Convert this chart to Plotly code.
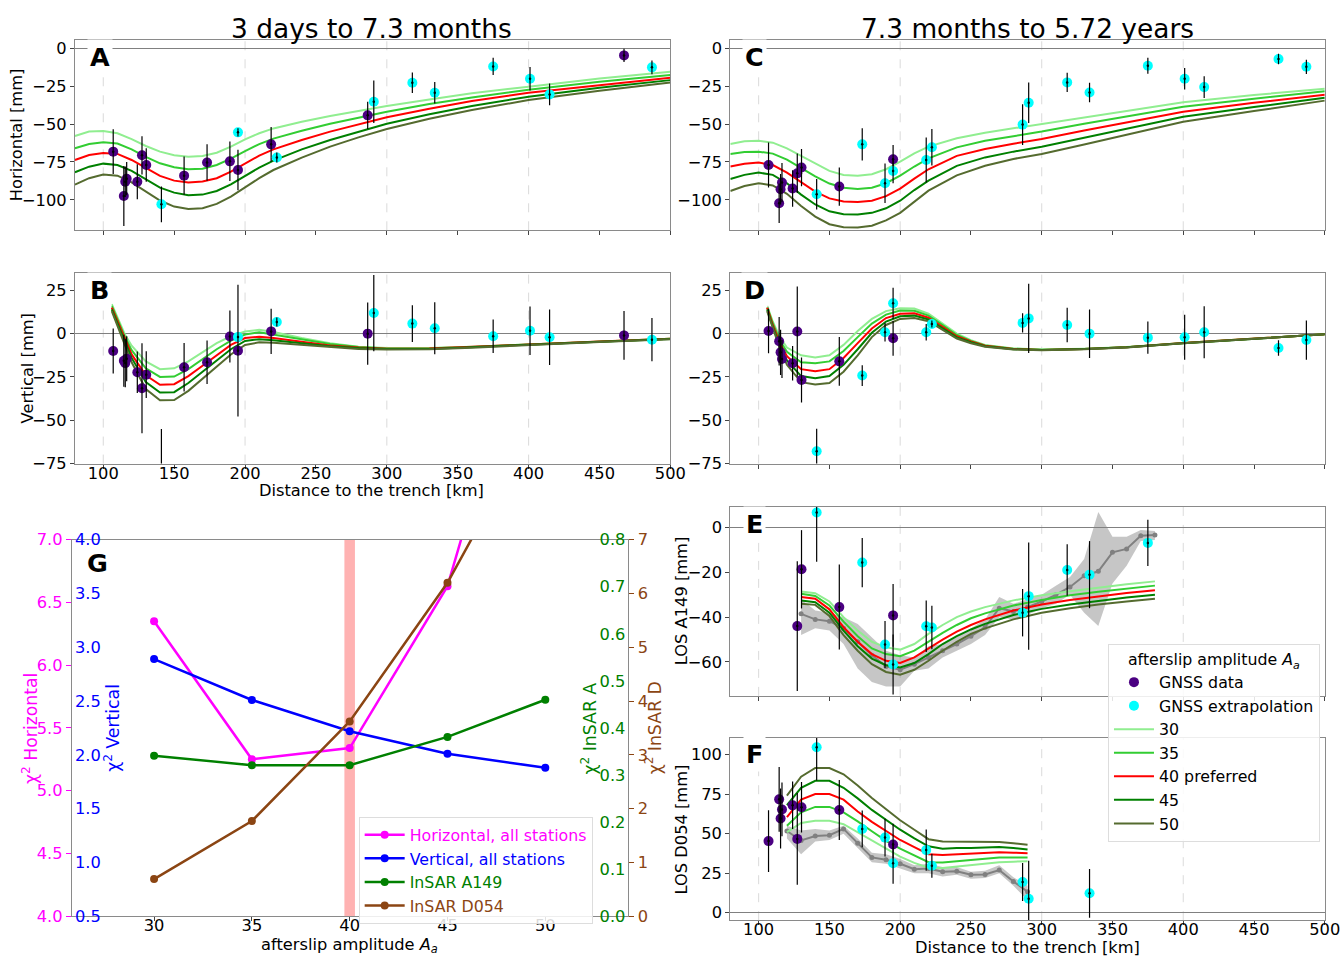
import plotly.graph_objects as go

FONT = "DejaVu Sans"
W, H = 1343, 964
FRAME = "#8a8a8a"

# screen placement: positions below are given in on-screen pixels and mapped to
# the figure's paper coordinates with this calibration
SX, SY, OY = 0.989, 0.979, 9.0
FS = 1.0 / 0.984

KM_TICKS = [100, 150, 200, 250, 300, 350, 400, 450, 500]
GRID_KM = [100, 200, 300, 400]
AMPLITUDES = [30, 35, 40, 45, 50]
LINE_COLORS = ["#90ee90", "#32cd32", "#ff0000", "#008000", "#556b2f"]
LINE_NAMES = ["30", "35", "40 preferred", "45", "50"]
DATA_COLOR = "#4b0082"
EXTRA_COLOR = "#00ffff"

# ---------------- model curves (mm) ----------------
A_KM = [80, 90, 100, 110, 120, 130, 140, 150, 160, 170, 180, 190, 200, 210, 220, 240, 260, 280, 300, 330, 360, 400, 450, 500]
A_30 = [-57.9, -55.0, -54.6, -56.1, -59.9, -64.5, -68.2, -70.6, -71.5, -71.0, -68.9, -64.9, -60.1, -56.1, -52.9, -48.5, -44.7, -41.4, -38.2, -33.8, -29.8, -25.4, -20.0, -15.6]
A_35 = [-66.0, -63.2, -62.0, -62.9, -66.7, -71.7, -75.9, -78.5, -79.8, -79.4, -77.0, -72.8, -67.8, -63.2, -59.6, -54.4, -49.8, -45.6, -41.9, -36.8, -32.5, -27.4, -22.1, -17.8]
A_40 = [-73.7, -70.4, -69.1, -69.7, -73.7, -79.2, -84.2, -87.3, -88.6, -87.9, -85.7, -81.4, -75.9, -70.8, -66.7, -60.5, -55.0, -50.2, -45.6, -39.9, -34.9, -29.4, -24.3, -19.6]
A_45 = [-81.8, -78.1, -76.1, -77.0, -80.9, -86.6, -91.9, -95.2, -96.9, -96.5, -94.1, -89.7, -84.0, -78.7, -74.1, -66.7, -60.5, -55.0, -49.8, -43.6, -38.2, -32.0, -26.1, -21.1]
A_50 = [-89.9, -85.7, -83.3, -84.0, -88.4, -94.5, -100.4, -104.4, -105.9, -105.5, -102.6, -97.8, -91.7, -85.7, -80.3, -72.1, -64.9, -58.8, -53.3, -46.5, -40.8, -34.2, -28.1, -22.6]

B_KM = [106, 110, 115, 120, 130, 140, 150, 160, 170, 180, 190, 200, 210, 220, 240, 260, 280, 300, 330, 360, 400, 450, 500]
B_30 = [17.0, 9.0, 0.0, -7.0, -16.0, -20.5, -20.0, -16.0, -10.5, -5.5, -1.5, 1.2, 2.2, 1.0, -2.5, -5.5, -7.5, -8.3, -8.3, -7.6, -6.2, -4.5, -2.9]
B_35 = [16.0, 8.0, -1.5, -9.5, -20.0, -25.0, -24.8, -20.5, -14.5, -9.0, -4.0, -0.5, 0.8, -0.5, -3.5, -6.0, -7.7, -8.5, -8.4, -7.7, -6.2, -4.5, -3.0]
B_40 = [15.0, 7.0, -3.0, -12.0, -24.0, -29.5, -29.2, -24.5, -18.5, -12.5, -6.5, -2.5, -1.8, -2.5, -4.8, -6.8, -8.0, -8.7, -8.6, -7.8, -6.3, -4.6, -3.0]
B_45 = [14.0, 6.0, -4.5, -14.0, -28.0, -34.0, -33.8, -28.5, -22.0, -15.5, -9.0, -4.2, -3.2, -3.8, -5.5, -7.3, -8.3, -8.9, -8.8, -7.9, -6.4, -4.7, -3.1]
B_50 = [13.0, 5.0, -6.0, -16.5, -32.0, -38.5, -38.3, -33.0, -26.0, -19.0, -12.0, -6.5, -5.0, -5.3, -6.5, -8.0, -8.8, -9.2, -9.0, -8.1, -6.5, -4.8, -3.2]

C_KM = A_KM
C_30 = [-63.2, -61.4, -61.0, -62.3, -66.0, -71.0, -76.3, -80.9, -83.6, -84.0, -83.1, -79.8, -74.8, -69.3, -64.9, -59.4, -55.7, -52.9, -50.2, -45.6, -41.4, -35.7, -30.9, -26.8]
C_35 = [-69.7, -68.5, -68.2, -69.5, -73.5, -79.0, -84.5, -89.2, -92.0, -92.8, -92.0, -89.0, -84.0, -78.0, -72.6, -65.4, -61.0, -58.0, -55.0, -49.8, -45.0, -38.6, -33.3, -28.5]
C_40 = [-78.0, -76.2, -75.4, -77.0, -82.0, -88.5, -94.5, -99.0, -101.0, -101.3, -100.5, -97.5, -92.5, -86.0, -79.8, -71.0, -66.5, -63.0, -59.9, -54.3, -48.8, -41.9, -36.0, -30.7]
C_45 = [-86.2, -83.5, -82.0, -83.5, -89.0, -96.5, -103.0, -107.5, -109.4, -109.6, -108.5, -105.5, -100.5, -93.5, -87.3, -77.6, -72.0, -68.2, -65.0, -59.0, -53.0, -45.2, -38.8, -32.7]
C_50 = [-94.1, -90.8, -89.0, -90.5, -96.0, -104.0, -111.0, -116.0, -118.0, -118.2, -117.0, -113.5, -108.5, -101.0, -93.9, -83.8, -77.5, -73.0, -69.7, -63.5, -57.0, -48.5, -41.5, -34.6]

D_KM = [106, 110, 115, 120, 130, 140, 150, 160, 170, 180, 190, 200, 210, 220, 230, 240, 250, 260, 280, 300, 330, 360, 400, 450, 500]
D_30 = [16.0, 7.0, -2.0, -8.0, -12.5, -13.7, -12.5, -6.5, 1.5, 8.5, 13.0, 14.6, 14.5, 11.5, 5.8, 0.0, -3.8, -6.5, -8.5, -9.2, -8.7, -7.7, -5.4, -3.0, -0.4]
D_35 = [15.5, 6.0, -4.0, -10.5, -16.5, -17.1, -16.0, -10.0, -2.0, 5.8, 11.0, 13.3, 13.2, 10.4, 5.0, -0.8, -4.2, -6.8, -8.7, -9.3, -8.8, -7.8, -5.4, -3.0, -0.4]
D_40 = [15.0, 5.0, -5.5, -13.0, -20.5, -21.7, -20.5, -14.0, -5.5, 3.0, 9.0, 11.5, 11.7, 9.2, 4.0, -1.5, -4.5, -7.0, -8.8, -9.4, -8.8, -7.8, -5.4, -3.0, -0.4]
D_45 = [14.0, 4.0, -7.0, -15.5, -24.5, -25.8, -24.5, -18.0, -9.0, 0.5, 7.0, 10.0, 10.4, 8.2, 3.0, -2.2, -5.0, -7.3, -9.0, -9.5, -8.9, -7.9, -5.5, -3.0, -0.4]
D_50 = [13.0, 3.0, -8.5, -18.0, -28.0, -29.4, -28.5, -22.0, -12.5, -2.0, 5.0, 8.5, 9.0, 7.2, 2.2, -2.8, -5.5, -7.5, -9.1, -9.6, -9.0, -8.0, -5.5, -3.0, -0.4]

E_KM = [130, 140, 150, 160, 170, 180, 190, 200, 210, 220, 230, 240, 250, 260, 280, 300, 320, 340, 360, 380]
E_30 = [-28.5, -29.3, -33.0, -40.0, -46.0, -51.0, -53.5, -54.5, -52.0, -47.5, -43.5, -40.0, -37.5, -35.5, -32.5, -30.2, -28.4, -26.8, -25.3, -24.0]
E_35 = [-29.5, -30.5, -34.8, -42.0, -48.5, -54.0, -56.5, -57.5, -55.0, -51.0, -47.0, -43.5, -40.5, -38.3, -34.8, -32.3, -30.2, -28.6, -27.1, -25.9]
E_40 = [-31.0, -31.8, -36.5, -44.5, -51.0, -56.5, -59.5, -60.5, -58.0, -54.0, -50.0, -46.5, -43.5, -41.0, -37.0, -34.3, -32.3, -30.8, -29.2, -28.0]
E_45 = [-32.5, -33.3, -38.0, -46.0, -53.0, -58.5, -61.5, -62.5, -60.5, -56.5, -52.0, -48.5, -45.5, -43.0, -39.0, -36.3, -34.3, -32.7, -31.2, -30.0]
E_50 = [-34.0, -34.5, -39.5, -48.0, -55.0, -61.0, -64.5, -65.7, -63.5, -59.5, -55.0, -51.0, -47.5, -45.0, -41.0, -38.0, -36.0, -34.3, -33.0, -31.8]

F_KM = [120, 130, 140, 150, 160, 170, 180, 190, 200, 210, 220, 230, 240, 250, 260, 270, 280, 290]
F_30 = [51.0, 56.8, 58.2, 58.2, 56.0, 51.0, 45.5, 40.5, 35.5, 31.5, 28.5, 28.3, 29.3, 30.0, 31.0, 32.0, 32.3, 32.5]
F_35 = [55.0, 63.5, 66.9, 66.9, 63.5, 57.8, 51.5, 45.5, 40.5, 36.0, 32.0, 31.8, 32.6, 33.3, 34.3, 34.9, 35.0, 35.0]
F_40 = [60.5, 71.5, 75.0, 75.0, 71.5, 64.0, 57.5, 51.5, 46.0, 41.5, 37.0, 36.5, 37.0, 37.4, 38.0, 38.3, 38.0, 37.6]
F_45 = [68.0, 79.0, 83.4, 83.4, 79.0, 72.3, 65.0, 58.5, 52.5, 47.0, 42.0, 40.5, 41.0, 41.0, 41.5, 41.6, 41.0, 40.0]
F_50 = [74.0, 86.0, 91.5, 91.5, 87.5, 80.4, 72.5, 65.5, 58.5, 52.5, 46.5, 45.0, 45.0, 45.0, 44.8, 44.8, 44.0, 43.0]

# ---------------- InSAR profiles (mm) ----------------
E_LOS_KM = [130, 140, 150, 160, 170, 180, 190, 200, 210, 220, 230, 240, 250, 260, 270, 280, 290, 300, 310, 320, 330, 340, 350, 360, 370, 380]
E_LOS = [-38.5, -41.0, -41.8, -45.0, -51.0, -57.0, -62.0, -63.5, -61.0, -58.0, -55.0, -52.0, -48.5, -44.5, -36.0, -37.5, -35.5, -33.0, -30.0, -26.5, -21.5, -19.5, -11.0, -9.5, -3.6, -3.3]
E_LOS_LOW = [-48, -45, -46, -52, -63, -69, -71, -71, -64, -63, -58, -55, -52, -48, -40, -41, -39, -36, -34, -30, -38, -44, -25, -17, -6, -5.5]
E_LOS_HIGH = [-32, -37, -38, -40, -43, -49, -55, -57, -58, -53, -52, -49, -45, -41, -31, -34, -32, -30, -26, -22, -14, 7, -4, -4, -1, -1.5]

F_LOS_KM = [120, 130, 140, 150, 160, 170, 180, 190, 200, 210, 220, 230, 240, 250, 260, 270, 280, 290]
F_LOS = [51.7, 45.7, 48.5, 49.0, 53.0, 44.0, 35.0, 33.5, 31.0, 27.5, 28.0, 26.0, 26.3, 24.0, 24.2, 27.0, 19.8, 13.3]
F_LOS_LOW = [47, 37, 45, 46, 50, 41, 32, 31, 28, 25, 25, 23, 24, 21.5, 22, 25, 17, 8]
F_LOS_HIGH = [55, 52, 53, 52, 55, 47, 38, 37, 34, 30, 31, 29, 29, 26, 26.5, 30, 22.5, 17]

# ---------------- GNSS stations: distance (km), value (mm), error (mm) ----------------
A_GNSS_KM = [107, 114.5, 115.5, 116.5, 124, 127.3, 130.3, 157, 173.2, 189.3, 195, 218.4, 286.5, 467.3]
A_GNSS = [-68.2, -97.4, -88.0, -86.0, -88.0, -70.6, -77.0, -84.0, -75.4, -74.6, -80.3, -63.4, -44.3, -4.8]
A_GNSS_ERR = [14.8, 19.7, 10, 11, 11.5, 12.6, 11, 12.6, 12, 13, 13.4, 11.5, 9, 4.4]
A_EXT_KM = [141, 195, 222.4, 290.8, 318, 333.8, 375, 401, 414.8, 487]
A_EXT = [-102.9, -55.5, -72.1, -35.3, -22.8, -29.4, -12.1, -20.2, -30.5, -12.7]
A_EXT_ERR = [11.8, 2.7, 3.3, 14, 6.8, 7.1, 5.7, 7.7, 7.1, 4.6]

B_GNSS_KM = A_GNSS_KM
B_GNSS = [-10.0, -15.6, -17.0, -14.5, -22.3, -31.5, -23.7, -19.4, -16.5, -1.7, -9.8, 1.3, 0.0, -1.0]
B_GNSS_ERR = [13, 15, 14, 13, 12, 26, 13.5, 14, 12.5, 15, 38, 13, 18, 14]
B_EXT_KM = A_EXT_KM
B_EXT = [-82.0, -2.0, 6.7, 11.9, 5.8, 3.1, -1.5, 1.7, -2.1, -3.5]
B_EXT_ERR = [27, 3, 2.6, 22, 10.6, 15, 9.6, 14, 16, 12.5]

C_GNSS_KM = [107, 114.5, 115.5, 116.5, 124, 127.3, 130.3, 157, 195]
C_GNSS = [-77.0, -102.2, -93.0, -88.6, -92.5, -82.5, -78.7, -91.2, -73.2]
C_GNSS_ERR = [14.8, 13, 10, 13, 12, 13, 12.3, 12.6, 9.3]
C_EXT_KM = [141, 173.2, 189.3, 195, 218.4, 222.4, 286.5, 290.8, 318, 333.8, 375, 401, 414.8, 467.3, 487]
C_EXT = [-96.3, -63.4, -89.0, -80.9, -73.7, -65.3, -50.4, -36.0, -22.6, -29.2, -11.6, -20.2, -25.7, -7.2, -12.3]
C_EXT_ERR = [10, 10.6, 13, 8.2, 14.8, 12, 13.4, 13.4, 6.3, 6.4, 5.3, 7.1, 7.1, 3.5, 4.7]

D_GNSS_KM = C_GNSS_KM
D_GNSS = [1.5, -4.4, -10.8, -14.6, -17.1, 1.2, -26.7, -16.0, -2.7]
D_GNSS_ERR = [12.8, 14, 13, 11, 10, 26, 13, 14, 10]
D_EXT_KM = C_EXT_KM
D_EXT = [-67.9, -24.2, 0.8, 17.5, 0.8, 5.6, 6.2, 8.8, 5.0, 0.0, -2.3, -2.1, 0.8, -8.3, -3.7]
D_EXT_ERR = [13, 6, 5.3, 9, 4.8, 2, 5.6, 20, 10, 14, 9.3, 13, 15, 4.5, 11.3]

E_GNSS_KM = [127.3, 130.3, 157, 195]
E_GNSS = [-44.0, -18.6, -35.5, -39.2]
E_GNSS_ERR = [29, 17.5, 19, 14]
E_EXT_KM = [141, 173.2, 189.3, 195, 218.4, 222.4, 286.5, 290.8, 318, 333.8, 375]
E_EXT = [6.8, -15.6, -52.2, -61.2, -44.1, -44.6, -38.0, -30.6, -18.9, -21.0, -6.8]
E_EXT_ERR = [22, 11, 10.5, 13.4, 11.5, 9.7, 10.6, 24, 11.5, 15, 10.3]

F_GNSS_KM = [107, 114.5, 115.5, 116.5, 124, 127.3, 130.3, 157, 195]
F_GNSS = [45.3, 71.7, 59.6, 65.3, 67.9, 46.7, 66.7, 65.0, 43.2]
F_GNSS_ERR = [19.5, 20.5, 19, 17, 15, 29, 16, 19, 13]
F_EXT_KM = [141, 173.2, 189.3, 195, 218.4, 222.4, 286.5, 290.8, 333.8]
F_EXT = [104.6, 53.0, 47.5, 31.3, 39.6, 29.7, 19.4, 8.9, 12.3]
F_EXT_ERR = [21, 11.6, 12, 13, 13, 7.6, 12, 24, 15.4]

# ---------------- misfit vs. afterslip amplitude ----------------
CHI2_HORIZONTAL = [6.35, 5.25, 5.34, 6.63, 9.3]
CHI2_VERTICAL = [2.89, 2.51, 2.22, 2.01, 1.88]
CHI2_A149 = [0.341, 0.321, 0.321, 0.381, 0.460]
CHI2_D054 = [0.69, 1.77, 3.62, 6.20, 9.5]
PREFERRED_AMPLITUDE = 40


def px(x):
    return min(1.0, (x / SX) / W)


def py(y):
    return max(0.0, 1 - ((y - OY) / SY) / H)


def fs(size):
    return round(size * FS, 2)


fig = go.Figure()

panels = [
    dict(x="x", y="y", km=A_KM, curves=[A_30, A_35, A_40, A_45, A_50],
         gnss=(A_GNSS_KM, A_GNSS, A_GNSS_ERR), ext=(A_EXT_KM, A_EXT, A_EXT_ERR), los=None, legend=True),
    dict(x="x2", y="y2", km=B_KM, curves=[B_30, B_35, B_40, B_45, B_50],
         gnss=(B_GNSS_KM, B_GNSS, B_GNSS_ERR), ext=(B_EXT_KM, B_EXT, B_EXT_ERR), los=None, legend=False),
    dict(x="x3", y="y3", km=C_KM, curves=[C_30, C_35, C_40, C_45, C_50],
         gnss=(C_GNSS_KM, C_GNSS, C_GNSS_ERR), ext=(C_EXT_KM, C_EXT, C_EXT_ERR), los=None, legend=False),
    dict(x="x4", y="y4", km=D_KM, curves=[D_30, D_35, D_40, D_45, D_50],
         gnss=(D_GNSS_KM, D_GNSS, D_GNSS_ERR), ext=(D_EXT_KM, D_EXT, D_EXT_ERR), los=None, legend=False),
    dict(x="x5", y="y5", km=E_KM, curves=[E_30, E_35, E_40, E_45, E_50],
         gnss=(E_GNSS_KM, E_GNSS, E_GNSS_ERR), ext=(E_EXT_KM, E_EXT, E_EXT_ERR),
         los=(E_LOS_KM, E_LOS, E_LOS_LOW, E_LOS_HIGH), legend=False),
    dict(x="x6", y="y6", km=F_KM, curves=[F_30, F_35, F_40, F_45, F_50],
         gnss=(F_GNSS_KM, F_GNSS, F_GNSS_ERR), ext=(F_EXT_KM, F_EXT, F_EXT_ERR),
         los=(F_LOS_KM, F_LOS, F_LOS_LOW, F_LOS_HIGH), legend=False),
]

for p in panels:
    ax = dict(xaxis=p["x"], yaxis=p["y"])
    if p["los"] is not None:
        lk, lm, lo, hi = p["los"]
        fig.add_trace(go.Scatter(x=lk + lk[::-1], y=hi + lo[::-1], fill="toself",
                                 fillcolor="rgba(128,128,128,0.45)", line=dict(width=0),
                                 mode="lines", showlegend=False, hoverinfo="skip", **ax))
        fig.add_trace(go.Scatter(x=lk, y=lm, mode="lines+markers",
                                 line=dict(color="#808080", width=2),
                                 marker=dict(color="#808080", size=5),
                                 showlegend=False, **ax))
    for i, amp in enumerate(AMPLITUDES):
        fig.add_trace(go.Scatter(x=p["km"], y=p["curves"][i], mode="lines",
                                 line=dict(color=LINE_COLORS[i], width=2),
                                 name=LINE_NAMES[i], legend="legend", legendrank=10 + i,
                                 showlegend=p["legend"], **ax))
    for (kms, vals, errs), color, name, rank in [
        (p["gnss"], DATA_COLOR, "GNSS data", 1),
        (p["ext"], EXTRA_COLOR, "GNSS extrapolation", 2),
    ]:
        fig.add_trace(go.Scatter(x=kms, y=vals, mode="markers",
                                 marker=dict(color=color, size=10),
                                 name=name, legend="legend", legendrank=rank,
                                 showlegend=p["legend"], **ax))
        fig.add_trace(go.Scatter(x=kms, y=vals, mode="markers",
                                 marker=dict(color="black", size=2.5),
                                 error_y=dict(type="data", array=errs, color="black",
                                              thickness=1.2, width=0),
                                 showlegend=False, **ax))

# misfit panel G
g_series = [
    (CHI2_HORIZONTAL, "y7", "#ff00ff", "Horizontal, all stations"),
    (CHI2_VERTICAL, "y8", "#0000ff", "Vertical, all stations"),
    (CHI2_A149, "y9", "#008000", "InSAR A149"),
    (CHI2_D054, "y10", "#8b4513", "InSAR D054"),
]
for rank, (vals, yref, color, name) in enumerate(g_series):
    fig.add_trace(go.Scatter(x=AMPLITUDES, y=vals, xaxis="x7", yaxis=yref,
                             mode="lines+markers", line=dict(color=color, width=2.5),
                             marker=dict(color=color, size=8),
                             name=f'<span style="color:{color}">{name}</span>',
                             legend="legend2", legendrank=rank + 1))

tickfont = dict(family=FONT, size=fs(16), color="black")


def xaxis(domain, anchor, labels, standoff=-9):
    return dict(domain=domain, anchor=anchor, range=[80, 500], tickvals=KM_TICKS,
                ticks="outside", ticklen=4, tickcolor="#444", showticklabels=labels,
                ticklabelstandoff=standoff,
                showgrid=False, zeroline=False, showline=True, mirror=True,
                linecolor=FRAME, linewidth=1.2, tickfont=tickfont)


def yaxis(domain, anchor, rng, tickvals):
    return dict(domain=domain, anchor=anchor, range=rng, tickvals=tickvals,
                ticks="outside", ticklen=4, tickcolor="#444", showgrid=False,
                zeroline=True, zerolinecolor="#808080", zerolinewidth=1.3,
                showline=True, mirror=True, linecolor=FRAME, linewidth=1.2,
                tickfont=tickfont)


LEFT = [px(75), px(671)]
RIGHT = [px(731), px(1326)]
ROW_A = [py(230), py(40)]
ROW_B = [py(463), py(273)]
ROW_E = [py(695), py(506)]
ROW_F = [py(919), py(737)]
G_X = [px(72), px(629)]
G_Y = [py(915), py(539)]

layout_axes = dict(
    xaxis=xaxis(LEFT, "y", False), yaxis=yaxis(ROW_A, "x", [-120, 5.3], [-100, -75, -50, -25, 0]),
    xaxis2=xaxis(LEFT, "y2", True), yaxis2=yaxis(ROW_B, "x2", [-75, 34.8], [-75, -50, -25, 0, 25]),
    xaxis3=xaxis(RIGHT, "y3", False), yaxis3=yaxis(ROW_A, "x3", [-120, 5.3], [-100, -75, -50, -25, 0]),
    xaxis4=xaxis(RIGHT, "y4", False), yaxis4=yaxis(ROW_B, "x4", [-75, 34.8], [-75, -50, -25, 0, 25]),
    xaxis5=xaxis(RIGHT, "y5", False), yaxis5=yaxis(ROW_E, "x5", [-75.2, 9.4], [-60, -40, -20, 0]),
    xaxis6=xaxis(RIGHT, "y6", True, standoff=-10),
    yaxis6=yaxis(ROW_F, "x6", [-4.7, 110.5], [0, 25, 50, 75, 100]),
    xaxis7=dict(domain=G_X, anchor="y7", range=[25.8, 54.25], tickvals=AMPLITUDES,
                ticks="outside", ticklen=4, tickcolor="#444", showgrid=False, zeroline=False,
                ticklabelstandoff=-10,
                showline=True, mirror=True, linecolor=FRAME, linewidth=1.2, tickfont=tickfont),
    yaxis7=dict(domain=G_Y, anchor="x7", range=[4, 7], tickvals=[4.0, 4.5, 5.0, 5.5, 6.0, 6.5, 7.0],
                tickformat=".1f", ticks="outside", ticklen=5, tickcolor="#ff00ff",
                showgrid=False, zeroline=False, showline=True, mirror=True,
                linecolor=FRAME, linewidth=1.2,
                tickfont=dict(family=FONT, size=fs(16), color="#ff00ff")),
    yaxis8=dict(overlaying="y7", anchor="x7", side="left", range=[0.5, 4],
                tickvals=[0.5, 1.0, 1.5, 2.0, 2.5, 3.0, 3.5, 4.0], tickformat=".1f",
                ticklabelposition="inside", ticklabeloverflow="allow", ticks="",
                showgrid=False, zeroline=False, showline=False,
                tickfont=dict(family=FONT, size=fs(16), color="#0000ff")),
    yaxis9=dict(overlaying="y7", anchor="x7", side="right", range=[0, 0.8],
                tickvals=[0.0, 0.1, 0.2, 0.3, 0.4, 0.5, 0.6, 0.7, 0.8], tickformat=".1f",
                ticklabelposition="inside", ticklabeloverflow="allow", ticks="",
                showgrid=False, zeroline=False, showline=False,
                tickfont=dict(family=FONT, size=fs(16), color="#008000")),
    yaxis10=dict(overlaying="y7", anchor="x7", side="right", range=[0, 7],
                 tickvals=[0, 1, 2, 3, 4, 5, 6, 7], ticks="outside", ticklen=5,
                 tickcolor="#8b4513", showgrid=False, zeroline=False, showline=False,
                 tickfont=dict(family=FONT, size=fs(16), color="#8b4513")),
)

shapes = []
for xr, yr in [("x", "y"), ("x2", "y2"), ("x3", "y3"), ("x4", "y4"), ("x5", "y5"), ("x6", "y6")]:
    for g in GRID_KM:
        shapes.append(dict(type="line", xref=xr, yref=f"{yr} domain", x0=g, x1=g, y0=0, y1=1,
                           line=dict(color="#d0d0d0", width=0.8, dash="dash"), layer="below"))
shapes.append(dict(type="rect", xref="x7", yref="paper",
                   x0=PREFERRED_AMPLITUDE - 0.27, x1=PREFERRED_AMPLITUDE + 0.27,
                   y0=G_Y[0], y1=G_Y[1], fillcolor="rgba(255,0,0,0.3)",
                   line=dict(width=0), layer="below"))

annotations = []


def text(x, y, s, size=16, color="black", angle=0, bold=False, bg=None):
    d = dict(x=px(x), y=py(y), xref="paper", yref="paper", text=f"<b>{s}</b>" if bold else s,
             showarrow=False, textangle=angle, xanchor="center", yanchor="middle",
             font=dict(family=FONT, size=fs(size), color=color))
    if bg:
        d["bgcolor"] = bg
        d["borderpad"] = 2
    annotations.append(d)


text(372, 28, "3 days to 7.3 months", size=26)
text(1028, 28, "7.3 months to 5.72 years", size=26)
text(16, 135, "Horizontal [mm]", angle=-90)
text(27, 368, "Vertical [mm]", angle=-90)
text(682, 600, "LOS A149 [mm]", angle=-90)
text(682, 828, "LOS D054 [mm]", angle=-90)
text(372, 490, "Distance to the trench [km]")
text(1028, 946, "Distance to the trench [km]")
text(350, 944, "afterslip amplitude <i>A</i><sub><i>a</i></sub>")
text(30, 727, "χ<sup>2</sup> Horizontal", size=17, color="#ff00ff", angle=-90)
text(112, 727, "χ<sup>2</sup> Vertical", size=17, color="#0000ff", angle=-90)
text(589, 727, "χ<sup>2</sup> InSAR A", size=17, color="#008000", angle=-90)
text(654, 727, "χ<sup>2</sup> InSAR D", size=17, color="#8b4513", angle=-90)
for lab, (x, y) in zip("ABCDEFG", [(100, 57), (100, 290), (755, 57), (755, 290),
                                     (755, 523), (755, 753), (98, 562)]):
    text(x, y, lab, size=25, bold=True, bg="white")

LEGEND_FONT = 15.8
fig.update_layout(
    width=W, height=H, margin=dict(l=0, r=0, t=0, b=0),
    paper_bgcolor="white", plot_bgcolor="white",
    font=dict(family=FONT, size=fs(16), color="black"),
    showlegend=True,
    legend=dict(x=px(1109), y=py(643), xanchor="left", yanchor="top",
                bgcolor="rgba(255,255,255,0.85)", bordercolor="#dddddd", borderwidth=1,
                title=dict(text="afterslip amplitude <i>A</i><sub><i>a</i></sub>",
                           font=dict(family=FONT, size=LEGEND_FONT), side="top center"),
                font=dict(family=FONT, size=LEGEND_FONT), traceorder="normal", itemwidth=40),
    legend2=dict(x=px(359), y=py(816), xanchor="left", yanchor="top",
                 bgcolor="rgba(255,255,255,0.85)", bordercolor="#dddddd", borderwidth=1,
                 font=dict(family=FONT, size=LEGEND_FONT), traceorder="normal", itemwidth=40),
    shapes=shapes, annotations=annotations,
    **layout_axes,
)

fig.write_html("out.html")
